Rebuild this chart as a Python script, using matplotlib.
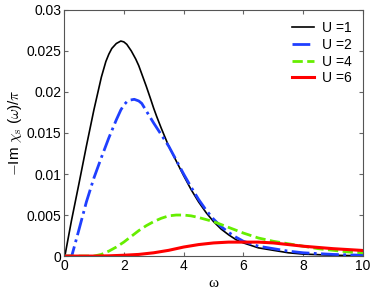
import numpy as np
import matplotlib
matplotlib.use("Agg")
import matplotlib.pyplot as plt

plt.rcParams['font.family'] = ['Liberation Sans', 'DejaVu Sans']
plt.rcParams['mathtext.fontset'] = 'cm'

# U = 1
w1 = [0, 0.03, 0.25, 0.5, 0.75, 1.0, 1.25, 1.4, 1.5, 1.6, 1.75, 1.9, 2.0, 2.1, 2.25,
      2.4, 2.5, 2.6, 2.75, 2.9, 3.0, 3.1, 3.25, 3.5, 3.75, 4.0, 4.25, 4.5, 4.75, 5.0,
      5.25, 5.5, 5.75, 6.0, 6.5, 7.0, 7.5, 8.0, 9.0, 10.0]
u1 = [0, 0, 0.0043, 0.0088, 0.0134, 0.0178, 0.0218, 0.0237, 0.0246, 0.0253, 0.0259,
      0.0262, 0.0261, 0.0258, 0.0250, 0.0240, 0.0232, 0.0222, 0.0207, 0.0191, 0.0180,
      0.0170, 0.0156, 0.0134, 0.0116, 0.0098, 0.0081, 0.0066, 0.0053, 0.0042, 0.0033,
      0.0026, 0.0020, 0.0016, 0.0010, 0.0007, 0.0004, 0.00024, 0.0001, 0.00003]

# U = 2
w2 = [0, 0.26, 0.5, 0.75, 1.0, 1.25, 1.5, 1.75, 1.9, 2.0, 2.1, 2.2, 2.35, 2.5, 2.6,
      2.75, 3.0, 3.25, 3.5, 3.75, 4.0, 4.25, 4.5, 4.75, 5.0, 5.25, 5.5, 5.75, 6.0,
      6.5, 7.0, 7.5, 8.0, 9.0, 10.0]
u2 = [0, 0, 0.0032, 0.0066, 0.0095, 0.0120, 0.0144, 0.0166, 0.0178, 0.0184, 0.0188,
      0.0190, 0.0191, 0.0189, 0.0186, 0.0177, 0.0162, 0.0148, 0.0134, 0.0117, 0.0100,
      0.0084, 0.0069, 0.0056, 0.0045, 0.0036, 0.0029, 0.0023, 0.0018, 0.0012, 0.0009,
      0.0006, 0.0004, 0.0002, 0.0001]

# U = 4
w4 = [0, 1.0, 1.25, 1.5, 1.75, 2.0, 2.25, 2.5, 2.75, 3.0, 3.25, 3.5, 3.75, 4.0,
      4.25, 4.5, 5.0, 5.5, 6.0, 6.5, 7.0, 7.5, 8.0, 8.5, 9.0, 9.5, 10.0]
u4 = [0, 0, 0.0002, 0.0006, 0.0011, 0.0017, 0.0024, 0.0031, 0.0037, 0.0042, 0.0046,
      0.0049, 0.0050, 0.0050, 0.0049, 0.0047, 0.0042, 0.0035, 0.0028, 0.0022, 0.0018,
      0.0015, 0.0012, 0.0009, 0.0007, 0.0005, 0.0004]

# U = 6
w6 = [0, 1.0, 1.5, 2.0, 2.5, 3.0, 3.5, 4.0, 4.5, 5.0, 5.5, 6.0, 6.5, 7.0, 8.0, 9.0, 10.0]
u6 = [0, 0, 0.00003, 0.0001, 0.0002, 0.0004, 0.0007, 0.0011, 0.0014, 0.0016, 0.0017,
      0.0017, 0.0017, 0.0016, 0.0012, 0.0009, 0.00068]

fig = plt.figure(figsize=(3.74, 2.90), dpi=100)
ax = fig.add_axes([0.171, 0.117, 0.80, 0.849])

ax.plot(w1, u1, color='black', lw=1.2, label='U =1')
ax.plot(w2, u2, color='#1f3fff', lw=2.0, ls='-.', label='U =2')
ax.plot(w4, u4, color='#66ee00', lw=2.0, ls='--', label='U =4')
ax.plot(w6, u6, color='red', lw=2.2, label='U =6')

ax.set_xlim(0, 10)
ax.set_ylim(0, 0.03)
ax.set_xticks([0, 2, 4, 6, 8, 10])
ax.set_yticks([0, 0.005, 0.01, 0.015, 0.02, 0.025, 0.03])
ax.set_yticklabels(['0', '0.005', '0.01', '0.015', '0.02', '0.025', '0.03'])
ax.tick_params(direction='in', top=True, right=True, labelsize=10,
               length=3, color='#666666', pad=2)
for s in ax.spines.values():
    s.set_color('#555555')
    s.set_linewidth(0.8)

ax.set_xlabel('ω', fontsize=11, family='Liberation Serif', labelpad=3)
ax.set_ylabel(r'$-$Im $\chi_{\rm s}$ ($\omega$)/$\pi$', fontsize=11, labelpad=2)

ax.legend(loc='upper right', frameon=False, fontsize=10, handlelength=1.6,
          labelspacing=0.2, borderaxespad=0.4, handletextpad=0.6)

fig.savefig('out.png', dpi=100)
